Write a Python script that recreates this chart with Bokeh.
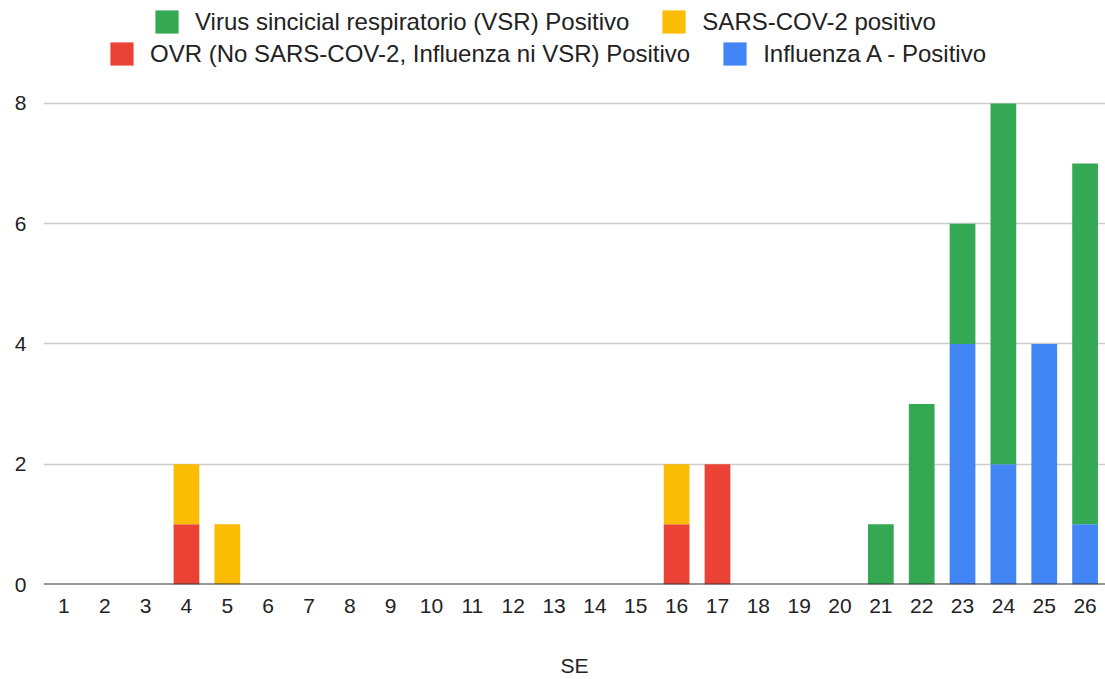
from bokeh.plotting import figure
from bokeh.models import FactorRange, Legend, LegendItem, Span, FixedTicker, Range1d
from bokeh.embed import file_html
from bokeh.resources import INLINE

weeks = [str(i) for i in range(1, 27)]
influenza_a = [0, 0, 0, 0, 0, 0, 0, 0, 0, 0, 0, 0, 0, 0, 0, 0, 0, 0, 0, 0, 0, 0, 4, 2, 4, 1]
ovr         = [0, 0, 0, 1, 0, 0, 0, 0, 0, 0, 0, 0, 0, 0, 0, 1, 2, 0, 0, 0, 0, 0, 0, 0, 0, 0]
sars_cov2   = [0, 0, 0, 1, 1, 0, 0, 0, 0, 0, 0, 0, 0, 0, 0, 1, 0, 0, 0, 0, 0, 0, 0, 0, 0, 0]
vsr         = [0, 0, 0, 0, 0, 0, 0, 0, 0, 0, 0, 0, 0, 0, 0, 0, 0, 0, 0, 0, 1, 3, 2, 6, 0, 6]

series_keys = ["influenza_a", "ovr", "sars_cov2", "vsr"]
series_labels = {
    "vsr": "Virus sincicial respiratorio (VSR) Positivo",
    "sars_cov2": "SARS-COV-2 positivo",
    "ovr": "OVR (No SARS-COV-2, Influenza ni VSR) Positivo",
    "influenza_a": "Influenza A - Positivo",
}
colors = ["#4285f4", "#ea4335", "#fbbc04", "#34a853"]
y_ticks = [0, 2, 4, 6, 8]
x_title = "SE"

data = dict(weeks=weeks, influenza_a=influenza_a, ovr=ovr, sars_cov2=sars_cov2, vsr=vsr)

FONT = "Liberation Sans"
TXT = "#222222"

# frame spans the full height; the space above 8 holds the legend
p = figure(
    x_range=FactorRange(factors=weeks, range_padding=0, start=0, end=25.9),
    y_range=Range1d(0, 9.713),
    width=1105, height=679,
    output_backend="svg", toolbar_location=None,
    min_border_left=43, min_border_right=0,
    min_border_top=0, min_border_bottom=95,
)
p.outline_line_color = None

renderers = p.vbar_stack(series_keys, x="weeks", width=0.63, color=colors,
                         line_color=None, source=data)
rmap = dict(zip(series_keys, renderers))

# grid / axes
p.xgrid.grid_line_color = None
p.ygrid.grid_line_color = "#cccccc"
p.ygrid.grid_line_width = 1.5
p.yaxis.ticker = FixedTicker(ticks=y_ticks)
for ax in (p.xaxis[0], p.yaxis[0]):
    ax.axis_line_color = None
    ax.major_tick_line_color = None
    ax.minor_tick_line_color = None
    ax.major_tick_out = 0
    ax.major_label_text_font = FONT
    ax.major_label_text_font_size = "21px"
    ax.major_label_text_color = TXT
p.yaxis.major_label_standoff = 17
p.xaxis.major_label_standoff = 14
p.xaxis.axis_label = x_title
p.xaxis.axis_label_text_font = FONT
p.xaxis.axis_label_text_font_size = "21px"
p.xaxis.axis_label_text_font_style = "normal"
p.xaxis.axis_label_text_color = TXT
p.xaxis.axis_label_standoff = 38

p.add_layout(Span(location=0, dimension="width", line_color="#333333", line_width=2))

def make_legend(keys, loc):
    lg = Legend(
        items=[LegendItem(label=series_labels[k], renderers=[rmap[k]]) for k in keys],
        orientation="horizontal", location=loc,
        border_line_color=None, background_fill_alpha=0,
        padding=0, margin=0, spacing=30, label_standoff=14,
        glyph_width=29, glyph_height=29, label_height=29,
        label_text_font=FONT, label_text_font_size="24px", label_text_color=TXT,
    )
    p.add_layout(lg, "center")

make_legend(["vsr", "sars_cov2"], (109, 548))
make_legend(["ovr", "influenza_a"], (64, 516))

open("out.html", "w").write(file_html(p, INLINE))
